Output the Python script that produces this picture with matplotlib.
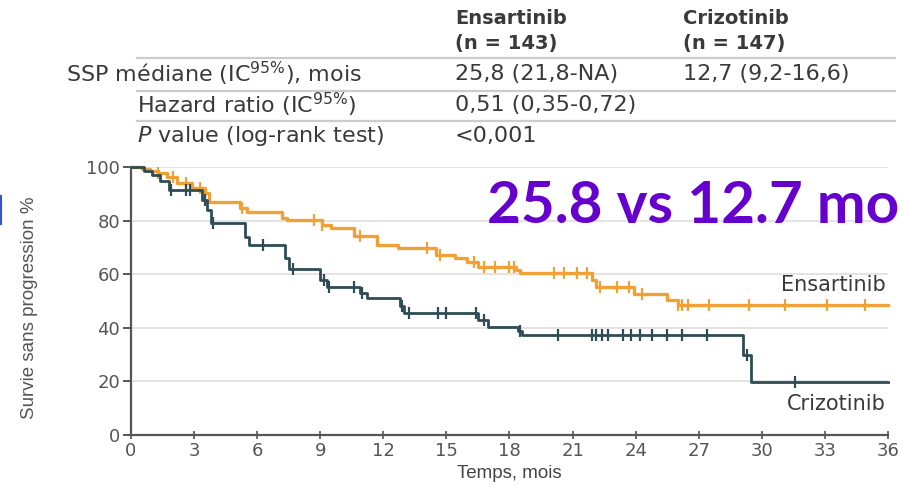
import numpy as np
import matplotlib
matplotlib.use('Agg')
from matplotlib import pyplot as plt

plt.rcParams['mathtext.fontset'] = 'custom'
plt.rcParams['mathtext.rm'] = 'DejaVu Sans'
plt.rcParams['mathtext.it'] = 'DejaVu Sans:italic'
plt.rcParams['mathtext.default'] = 'regular'

# Kaplan-Meier steps (months, % survival)
ens_t = [0, 0.5, 0.9, 1.3, 1.7, 2.2, 2.9, 3.5, 3.7, 5.2, 5.5, 7.2, 7.4, 9.1, 9.5,
         10.6, 11.7, 12.7, 14.5, 15.4, 16.0, 16.5, 18.3, 18.5, 21.9, 22.1, 23.9,
         25.5, 26.0, 36]
ens_s = [100, 99.3, 98.6, 97.6, 96.3, 94.2, 92.2, 90.2, 86.8, 84.7, 83.2, 81.1,
         80.4, 78.3, 77.2, 74.3, 71.0, 69.8, 67.2, 66.0, 64.5, 62.7, 61.5, 60.4,
         57.8, 55.2, 52.6, 50.4, 48.5, 48.5]
ens_cens = [1.3, 2.0, 2.6, 3.3, 5.3, 8.7, 9.1, 10.9, 14.1, 14.7, 16.3, 16.8, 17.3,
            18.0, 18.2, 20.1, 20.6, 21.2, 21.7, 22.3, 23.1, 23.7, 24.3, 26.0,
            26.2, 26.5, 27.5, 29.4, 31.1, 33.1, 34.9]

criz_t = [0, 0.6, 1.0, 1.4, 1.8, 3.4, 3.6, 3.8, 5.4, 5.6, 7.3, 7.5, 9.0, 9.3,
          10.9, 11.2, 12.8, 13.0, 16.5, 17.0, 18.4, 18.6, 29.1, 29.5, 36]
criz_s = [100, 98.6, 97.0, 94.6, 91.4, 87.7, 84.0, 79.0, 74.0, 70.9, 66.0, 62.0,
          58.0, 55.2, 53.0, 51.1, 48.0, 45.5, 42.9, 40.3, 38.8, 37.3, 29.9, 19.8,
          19.8]
criz_cens = [1.9, 2.6, 2.8, 3.5, 3.9, 6.3, 7.7, 9.2, 9.4, 10.6, 11.0, 12.9, 13.2,
             14.6, 15.0, 16.4, 16.8, 18.5, 20.3, 21.9, 22.1, 22.4, 22.7, 23.4,
             23.8, 24.2, 24.8, 25.5, 26.2, 27.4, 29.3, 31.6]

x_ticks = list(range(0, 37, 3))
y_ticks = [0, 20, 40, 60, 80, 100]

col_ens = '#EFA135'
col_criz = '#2F4C55'
txt = '#3a3a3a'

W, H = 904, 492


def at_step(t, s, c):
    i = np.searchsorted(t, c, side='right') - 1
    return np.array(s)[i]


def fx(x):
    return x / W


def fy(y):
    return 1 - y / H


fig = plt.figure(figsize=(W / 100, H / 100), dpi=100)
ax = fig.add_axes([fx(131), fy(435), fx(888) - fx(131), fy(167) - fy(435)])

for v in y_ticks[1:]:
    ax.axhline(v, color='#e0e0e0', lw=1.3, zorder=0)

ax.step(ens_t, ens_s, where='post', color=col_ens, lw=2.4, clip_on=False, zorder=3)
ax.step(criz_t, criz_s, where='post', color=col_criz, lw=2.0, clip_on=False, zorder=4)
ax.plot(ens_cens, at_step(ens_t, ens_s, ens_cens), ls='none', marker='|', ms=9,
        mew=1.6, color=col_ens, zorder=3)
ax.plot(criz_cens, at_step(criz_t, criz_s, criz_cens), ls='none', marker='|', ms=9,
        mew=1.6, color=col_criz, zorder=4)

ax.set_xlim(0, 36)
ax.set_ylim(0, 100)
ax.set_xticks(x_ticks)
ax.set_yticks(y_ticks)
for sp in ['top', 'right']:
    ax.spines[sp].set_visible(False)
for sp in ['left', 'bottom']:
    ax.spines[sp].set_color('#555555')
    ax.spines[sp].set_linewidth(1.6)
ax.tick_params(axis='y', direction='out', length=6, width=1.4, color='#555555',
               labelsize=13, labelcolor='#555555', pad=2)
ax.tick_params(axis='x', direction='inout', length=6, width=1.2, color='#555555',
               labelsize=13, labelcolor='#555555', pad=2)
ax.set_facecolor('white')

ax.set_xlabel('Temps, mois', fontsize=13.5, color='#444444', family='Liberation Sans',
              labelpad=4)
fig.text(fx(30), fy(308), 'Survie sans progression %', rotation=90, ha='center',
         va='center', fontsize=13.5, color='#555555', family='Liberation Sans')

ax.text(35.9, 56, 'Ensartinib', ha='right', va='center', fontsize=15, color=txt)
ax.text(35.9, 11.5, 'Crizotinib', ha='right', va='center', fontsize=15, color=txt)

fig.text(fx(487), fy(207), '25.8 vs 12.7 mo', ha='left', va='center', fontsize=42,
         fontweight='bold', family='Lato', color='#6600CC')

# header table
fig.text(fx(455), fy(18), 'Ensartinib', ha='left', va='center', fontsize=14,
         color=txt, fontweight='bold')
fig.text(fx(455), fy(43), '(n = 143)', ha='left', va='center', fontsize=14,
         color=txt, fontweight='bold')
fig.text(fx(683), fy(18), 'Crizotinib', ha='left', va='center', fontsize=14,
         color=txt, fontweight='bold')
fig.text(fx(683), fy(43), '(n = 147)', ha='left', va='center', fontsize=14,
         color=txt, fontweight='bold')

fs = 16
fig.text(fx(66), fy(74), r'SSP médiane (IC$^{95\%}$), mois', ha='left', va='center',
         fontsize=fs, color=txt)
fig.text(fx(455), fy(74), '25,8 (21,8-NA)', ha='left', va='center', fontsize=fs,
         color=txt)
fig.text(fx(683), fy(74), '12,7 (9,2-16,6)', ha='left', va='center', fontsize=fs,
         color=txt)
fig.text(fx(137), fy(105), r'Hazard ratio (IC$^{95\%}$)', ha='left', va='center',
         fontsize=fs, color=txt)
fig.text(fx(455), fy(105), '0,51 (0,35-0,72)', ha='left', va='center', fontsize=fs,
         color=txt)
fig.text(fx(137), fy(136), r'$\it{P}$ value (log-rank test)', ha='left', va='center',
         fontsize=fs, color=txt)
fig.text(fx(455), fy(136), '<0,001', ha='left', va='center', fontsize=fs, color=txt)

for yy in [58, 91, 121]:
    fig.add_artist(plt.Line2D([fx(137), fx(895)], [fy(yy), fy(yy)], color='#cccccc',
                              lw=1.6, transform=fig.transFigure))

# thin blue fragment at the left edge
fig.add_artist(plt.Line2D([fx(1), fx(1)], [fy(196), fy(224)], color='#3355cc',
                          lw=1.5, transform=fig.transFigure))

plt.savefig('out.png', dpi=100)
